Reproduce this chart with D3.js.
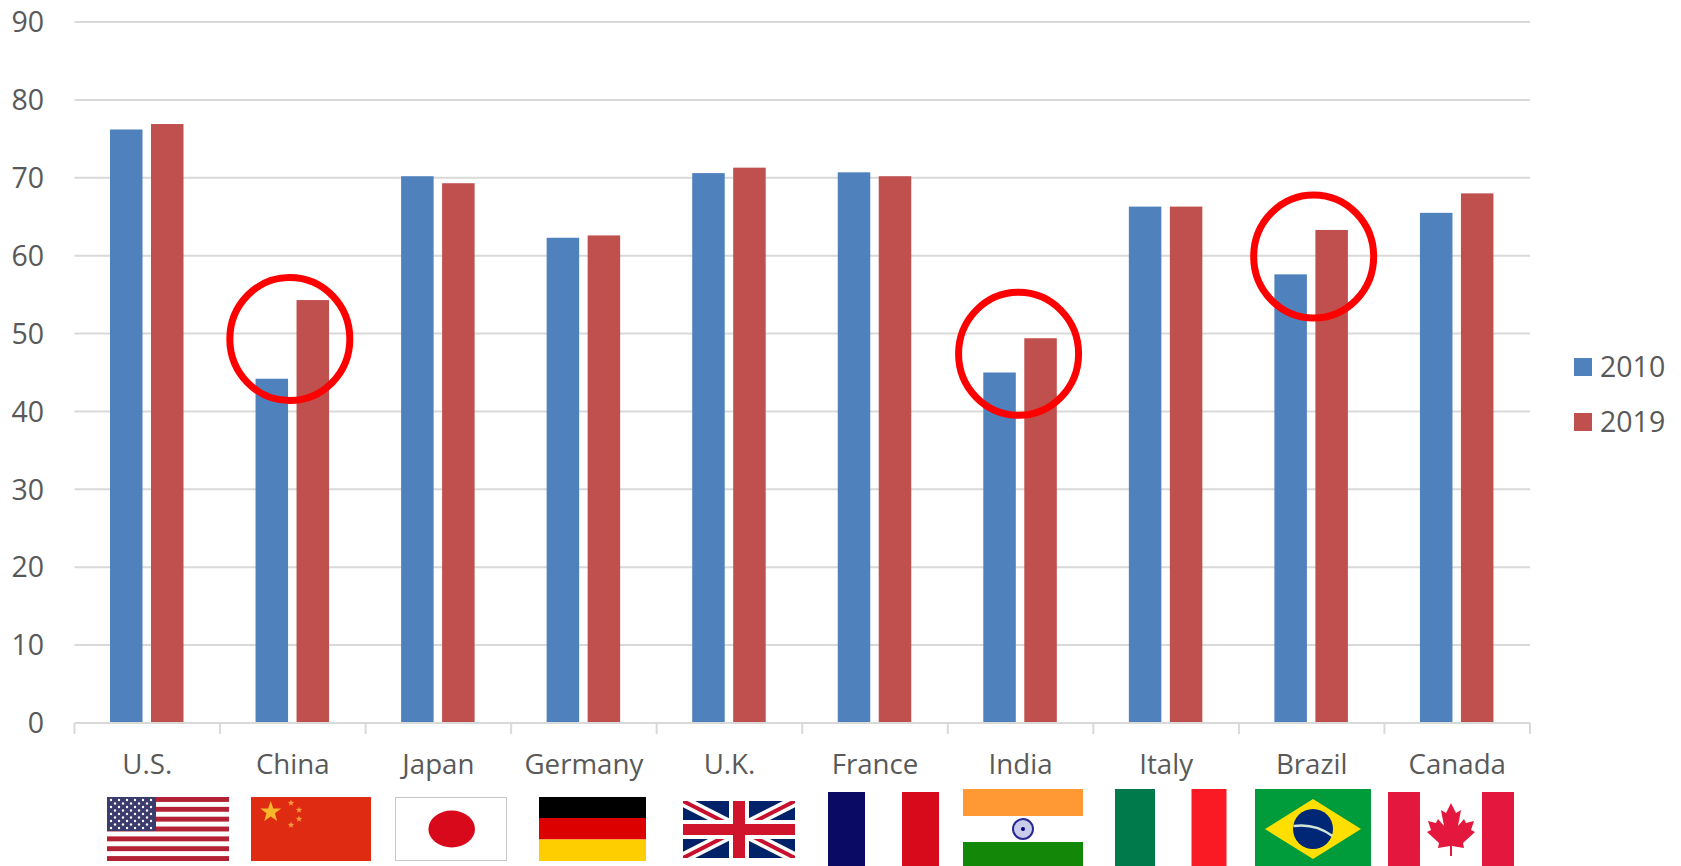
<!DOCTYPE html>
<html><head><meta charset="utf-8">
<script src="https://cdn.jsdelivr.net/npm/d3@7/dist/d3.min.js"></script>
<style>html,body{margin:0;padding:0;background:#fff;overflow:hidden}svg{display:block}text{font-family:"Open Sans",sans-serif;fill:#595959}</style>
</head><body><svg id="c" width="1681" height="866"></svg>
<script>
const categories=["U.S.","China","Japan","Germany","U.K.","France","India","Italy","Brazil","Canada"];
const values2010=[76.2,44.2,70.2,62.3,70.6,70.7,45.0,66.3,57.6,65.5];
const values2019=[76.9,54.3,69.3,62.6,71.3,70.2,49.4,66.3,63.3,68.0];
const seriesNames=["2010","2019"];
const seriesColors=["#4F81BD","#C0504D"];
const yTicks=[0,10,20,30,40,50,60,70,80,90];
const highlightCategories=["China","India","Brazil"];
const highlightLevels=[49.3,47.4,59.9];

const svg=d3.select("#c");
const x=d3.scaleBand().domain(categories).range([74.5,1530]);
const y=d3.scaleLinear().domain([0,90]).range([723,22]);
const x1=d3.scaleBand().domain(seriesNames).range([35.5,109]).paddingInner(0.207);

// gridlines
svg.append("g").selectAll("line").data(yTicks.filter(d=>d>0)).join("line")
  .attr("x1",74.5).attr("x2",1530).attr("y1",d=>y(d)).attr("y2",d=>y(d))
  .attr("stroke","#D9D9D9").attr("stroke-width",2);

// y axis labels
const ya=svg.append("g").attr("transform","translate(74,0)").call(d3.axisLeft(y).tickValues(yTicks).tickSize(0).tickPadding(30));
ya.select(".domain").remove();
ya.selectAll("text").style("font-size","28.5px").style("font-family",'"Open Sans",sans-serif').attr("fill","#595959").attr("dy","0.34em");

// bars
const series=[values2010,values2019];
series.forEach((vals,i)=>{
  svg.append("g").selectAll("rect").data(categories.map((c,k)=>({c,v:vals[k]}))).join("rect")
    .attr("x",d=>x(d.c)+x1(seriesNames[i])).attr("width",x1.bandwidth())
    .attr("y",d=>y(d.v)).attr("height",d=>y(0)-y(d.v)).attr("fill",seriesColors[i]);
});

// x axis
const xa=svg.append("g").attr("transform","translate(0,723)").call(d3.axisBottom(x).tickSize(0).tickPadding(31));
xa.select(".domain").remove();
xa.selectAll("text").style("font-size","27.7px").style("font-family",'"Open Sans",sans-serif').attr("fill","#595959");
svg.append("line").attr("x1",74.5).attr("x2",1530).attr("y1",y(0)).attr("y2",y(0)).attr("stroke","#D9D9D9").attr("stroke-width",2);
svg.append("g").selectAll("line").data(d3.range(categories.length+1)).join("line")
  .attr("x1",d=>74.5+d*x.step()).attr("x2",d=>74.5+d*x.step()).attr("y1",y(0)).attr("y2",y(0)+11)
  .attr("stroke","#D9D9D9").attr("stroke-width",2);

// highlight rings
const ringOffsets=[-3,-2,2];
svg.append("g").selectAll("ellipse").data(highlightCategories).join("ellipse")
  .attr("cx",(d,i)=>x(d)+x.bandwidth()/2+ringOffsets[i]).attr("cy",(d,i)=>y(highlightLevels[i]))
  .attr("rx",60).attr("ry",61.5).attr("fill","none").attr("stroke","#FF0000").attr("stroke-width",7);

// legend
seriesNames.forEach((n,i)=>{
  const top=[358,413][i];
  svg.append("rect").attr("x",1574).attr("y",top).attr("width",18).attr("height",18).attr("fill",seriesColors[i]);
  svg.append("text").attr("x",1600).attr("y",top+19).style("font-size","28.5px").text(n);
});

// flags
const R=(g,a,b,w,h,f)=>g.append("rect").attr("x",a).attr("y",b).attr("width",w).attr("height",h).attr("fill",f);
function star(cx,cy,r){
  return d3.range(10).map(i=>{const a=-Math.PI/2+i*Math.PI/5,q=i%2?r*0.4:r;return [cx+q*Math.cos(a),cy+q*Math.sin(a)].join(",")}).join(" ");
}
// U.S.
{const g=svg.append("g");R(g,107,797,122,64,"#fff");
 d3.range(7).forEach(i=>R(g,107,797+i*64/6.5,122,64/13,"#B22234"));
 R(g,107,797,49,34,"#3C3B6E");
 d3.range(9).forEach(r=>{const n=r%2?5:6;d3.range(n).forEach(c=>{
   g.append("circle").attr("cx",107+(r%2?8:4)+c*8).attr("cy",800+r*3.5).attr("r",1.2).attr("fill","#fff");});});}
// China
{const g=svg.append("g");R(g,251,797,120,64,"#DE2B12");
 g.append("polygon").attr("points",star(270.7,812,11)).attr("fill","#F8B62B");
 [[291,803],[299,810],[299,819],[291,825]].forEach(p=>g.append("polygon").attr("points",star(p[0],p[1],3.5)).attr("fill","#F39A3C"));}
// Japan
{const g=svg.append("g");g.append("rect").attr("x",395.5).attr("y",797.5).attr("width",111).attr("height",63).attr("fill","#fff").attr("stroke","#C8C8C8").attr("stroke-width",1);
 g.append("ellipse").attr("cx",451.7).attr("cy",829).attr("rx",23.3).attr("ry",18.5).attr("fill","#D7091A");}
// Germany
{const g=svg.append("g");R(g,539,797,107,21,"#000");R(g,539,818,107,21.5,"#DD0000");R(g,539,839.5,107,21.5,"#FFCE00");}
// U.K.
{const g=svg.append("g");
 g.append("clipPath").attr("id","uk").append("rect").attr("x",683).attr("y",801).attr("width",112).attr("height",57);
 g.attr("clip-path","url(#uk)");R(g,683,801,112,57,"#012169");
 const dl=(w,c)=>{[[683,801,795,858],[683,858,795,801]].forEach(l=>g.append("line").attr("x1",l[0]).attr("y1",l[1]).attr("x2",l[2]).attr("y2",l[3]).attr("stroke",c).attr("stroke-width",w));};
 dl(11,"#fff");dl(4,"#C8102E");
 R(g,683,820,112,19,"#fff");R(g,729,801,20,57,"#fff");
 R(g,683,824,112,11,"#CF142B");R(g,733,801,12,57,"#CF142B");}
// France
{const g=svg.append("g");R(g,828,792,37,74,"#0A0A64");R(g,902,792,37,74,"#D60A1A");}
// India
{const g=svg.append("g");R(g,963,789,120,27,"#FF9933");R(g,963,842,120,24,"#138808");
 g.append("circle").attr("cx",1023).attr("cy",829).attr("r",10).attr("fill","#C8CBEA").attr("stroke","#2A2A96").attr("stroke-width",2);
 g.append("circle").attr("cx",1023).attr("cy",829).attr("r",2).attr("fill","#000080");}
// Italy
{const g=svg.append("g");R(g,1115,789,40,77,"#007A4B");R(g,1191.5,789,35,77,"#FA1A24");}
// Brazil
{const g=svg.append("g");R(g,1255,789,116,77,"#009B3A");
 g.append("polygon").attr("points","1265,829 1313,799 1361,829 1313,859").attr("fill","#FEDF00");
 g.append("circle").attr("cx",1313).attr("cy",829).attr("r",20).attr("fill","#002776");
 g.append("path").attr("d","M1293.5,826 Q1315,823 1332.5,836").attr("fill","none").attr("stroke","#cfe6d8").attr("stroke-width",2.5);}
// Canada
{const g=svg.append("g");R(g,1388,792,32,74,"#E4173E");R(g,1482,792,32,74,"#E4173E");
 const cx=1451,leaf=[[0,-26],[5,-16],[10,-19],[7,-3],[13,-10],[15,-6],[23,-8],[20,1],[24,3],[12,14],[13,19],[1,17],[1,27],[-1,27],[-1,17],[-13,19],[-12,14],[-24,3],[-20,1],[-23,-8],[-15,-6],[-13,-10],[-7,-3],[-10,-19],[-5,-16]];
 g.append("polygon").attr("points",leaf.map(p=>(cx+p[0])+","+(829+p[1])).join(" ")).attr("fill","#E4173E");}
</script></body></html>
